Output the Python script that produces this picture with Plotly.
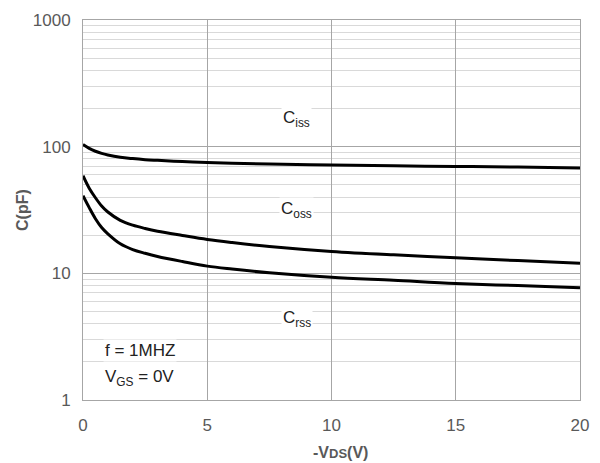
import math
import plotly.graph_objects as go

vds = [0, 0.25, 0.5, 0.75, 1, 1.5, 2, 2.5, 3, 4, 5, 6, 7.5, 10, 12.5, 15, 17.5, 20]
ciss = [104, 97, 92, 88.5, 86, 82.5, 80.5, 79, 78, 76.3, 75, 74, 73, 71.6, 70.6, 69.8, 69, 68]
coss = [59, 47, 39.5, 34, 30.5, 26.2, 24, 22.6, 21.5, 19.9, 18.5, 17.5, 16.3, 14.9, 14.0, 13.3, 12.6, 12.0]
crss = [41, 33, 27, 23, 20.5, 17.1, 15.4, 14.4, 13.6, 12.4, 11.4, 10.8, 10.1, 9.3, 8.8, 8.3, 8.0, 7.7]

x_ticks = [0, 5, 10, 15, 20]
y_ticks = [1, 10, 100, 1000]

fig = go.Figure()
for ys in (ciss, coss, crss):
    fig.add_trace(go.Scatter(x=vds, y=ys, mode="lines",
                             line=dict(color="black", width=3, shape="spline", smoothing=1.0),
                             showlegend=False, hoverinfo="skip"))

minor_vals = [m * 10 ** d for d in range(0, 3) for m in range(2, 10)]

fig.update_layout(
    width=600, height=463,
    margin=dict(l=75, r=28, t=12, b=71),
    paper_bgcolor="white", plot_bgcolor="white",
    font=dict(family="Liberation Sans, Arial, sans-serif", color="#595959"),
    xaxis=dict(range=[0, 20], tickvals=x_ticks, ticktext=[str(v) for v in x_ticks],
               automargin=False,
               showgrid=True, gridcolor="#a6a6a6", gridwidth=1,
               showline=True, linecolor="#a6a6a6", linewidth=1, mirror=True,
               zeroline=False, ticks="outside", ticklen=10, tickcolor="rgba(0,0,0,0)",
               tickfont=dict(size=17, color="#595959")),
    yaxis=dict(type="log", range=[0, 3], tickvals=y_ticks, ticktext=[str(v) for v in y_ticks],
               automargin=False,
               showgrid=True, gridcolor="#a6a6a6", gridwidth=1,
               showline=True, linecolor="#a6a6a6", linewidth=1, mirror=True,
               zeroline=False, ticks="outside", ticklen=8, tickcolor="rgba(0,0,0,0)",
               tickfont=dict(size=17, color="#595959"),
               minor=dict(tickvals=minor_vals, showgrid=True, gridcolor="#d9d9d9", gridwidth=1, ticks="")),
)

# axis titles
fig.add_annotation(xref="paper", yref="paper", x=(340 - 83) / 497, y=(400 - 452) / 380,
                   xanchor="center", yanchor="middle",
                   text="<b>-V<span style='font-size:13px'>DS</span>(V)</b>", showarrow=False,
                   font=dict(size=16, color="#595959"))
fig.add_annotation(xref="paper", yref="paper", x=(22 - 83) / 497, y=(400 - 210) / 380,
                   xanchor="center", yanchor="middle",
                   text="<b>C(pF)</b>", showarrow=False, textangle=-90,
                   font=dict(size=16, color="#595959"))

labels = [("C<sub>iss</sub>", 8.6, 166), ("C<sub>oss</sub>", 8.6, 31.8), ("C<sub>rss</sub>", 8.6, 4.4)]
for t, x, y in labels:
    fig.add_annotation(x=x, y=math.log10(y), text=t, showarrow=False,
                       font=dict(size=17, color="#222222"), bgcolor="white")

fig.add_annotation(x=0.8, y=math.log10(2.46), text="f = 1MHZ", showarrow=False, xanchor="left",
                   font=dict(size=17, color="#222222"), bgcolor="white")
fig.add_annotation(x=0.8, y=math.log10(1.5), text="V<sub>GS</sub> = 0V", showarrow=False, xanchor="left",
                   font=dict(size=17, color="#222222"), bgcolor="white")

fig.write_html("out.html")
